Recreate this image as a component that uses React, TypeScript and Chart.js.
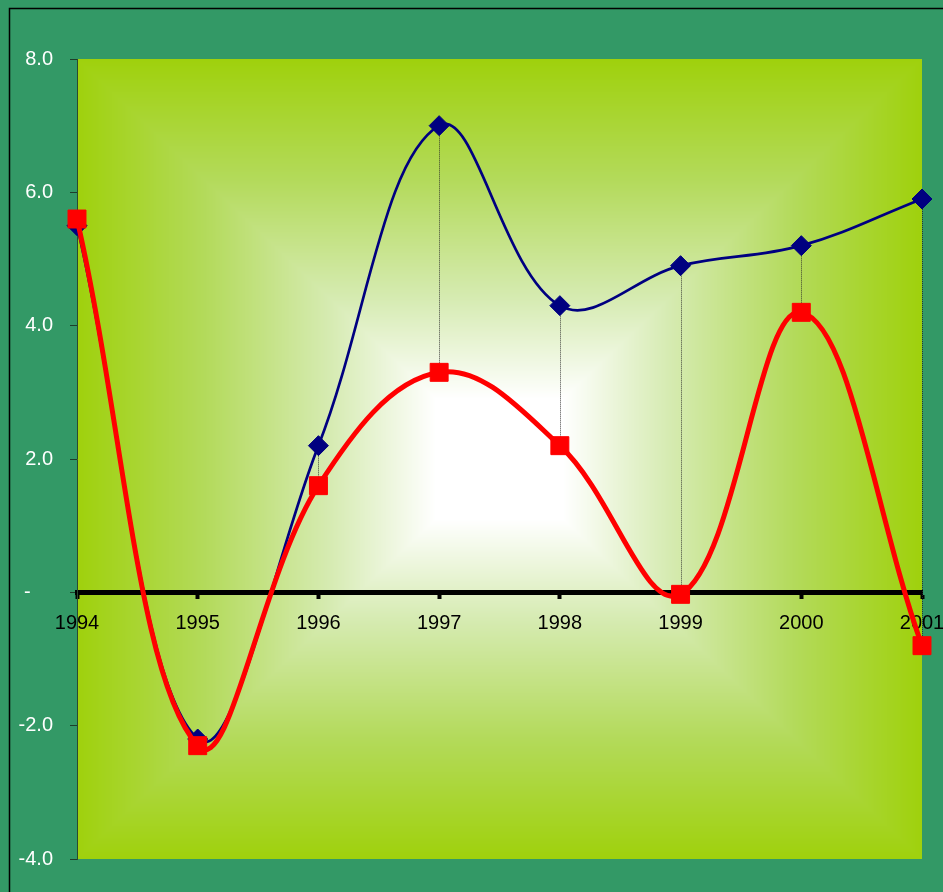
import React, { useEffect, useRef } from "react";
import { Chart, registerables } from "chart.js";

Chart.register(...registerables);

const years = ["1994", "1995", "1996", "1997", "1998", "1999", "2000", "2001"];
const blueSeries = [5.5, -2.2, 2.2, 7.0, 4.3, 4.9, 5.2, 5.9];
const redSeries = [5.6, -2.3, 1.6, 3.3, 2.2, -0.03, 4.2, -0.8];
const yMin = -4;
const yMax = 8;
const yStep = 2;

const FONT = "'Liberation Sans', Arial, sans-serif";

// gradient stops from plot edge (0) to centre (1)
const gradStops: [number, number[]][] = [
  [0, [159, 209, 12]],
  [0.3, [179, 218, 90]],
  [0.6, [214, 235, 178]],
  [0.85, [255, 255, 255]],
  [1, [255, 255, 255]],
];

function colorAt(s: number): number[] {
  for (let i = 1; i < gradStops.length; i++) {
    const [p1, c1] = gradStops[i];
    const [p0, c0] = gradStops[i - 1];
    if (s <= p1) {
      const f = (s - p0) / (p1 - p0 || 1);
      return [c0[0] + (c1[0] - c0[0]) * f, c0[1] + (c1[1] - c0[1]) * f, c0[2] + (c1[2] - c0[2]) * f];
    }
  }
  return gradStops[gradStops.length - 1][1];
}

let cachedGrad: HTMLCanvasElement | null = null;
let cachedKey = "";

function getGradient(w: number, h: number): HTMLCanvasElement {
  const key = w + "x" + h;
  if (cachedGrad && cachedKey === key) return cachedGrad;
  const c = document.createElement("canvas");
  c.width = w;
  c.height = h;
  const g = c.getContext("2d")!;
  const img = g.createImageData(w, h);
  const hw = w / 2;
  const hh = h / 2;
  for (let y = 0; y < h; y++) {
    const dy = Math.abs(y + 0.5 - hh) / hh;
    for (let x = 0; x < w; x++) {
      const dx = Math.abs(x + 0.5 - hw) / hw;
      const t = Math.max(dx, dy);
      const col = colorAt(1 - t);
      const idx = (y * w + x) * 4;
      img.data[idx] = col[0];
      img.data[idx + 1] = col[1];
      img.data[idx + 2] = col[2];
      img.data[idx + 3] = 255;
    }
  }
  g.putImageData(img, 0, 0);
  cachedGrad = c;
  cachedKey = key;
  return c;
}

const backgroundPlugin = {
  id: "bgPlugin",
  beforeDraw(chart: any) {
    const { ctx, chartArea, width, height } = chart;
    ctx.save();
    ctx.fillStyle = "#339966";
    ctx.fillRect(0, 0, width, height);
    ctx.strokeStyle = "#000000";
    ctx.lineWidth = 1.5;
    ctx.strokeRect(9.5, 8.5, width + 50, height + 50);

    const { left, right, top, bottom } = chartArea;
    const w = Math.round(right - left);
    const h = Math.round(bottom - top);
    const grad = getGradient(w, h);
    ctx.drawImage(grad, left, top, right - left, bottom - top);
    ctx.restore();
  },
};

const hiLoPlugin = {
  id: "hiLoPlugin",
  beforeDatasetsDraw(chart: any) {
    const { ctx } = chart;
    const xs = chart.scales.x;
    const ys = chart.scales.y;
    ctx.save();
    ctx.strokeStyle = "rgba(40,40,40,0.85)";
    ctx.lineWidth = 1;
    ctx.setLineDash([1, 1]);
    years.forEach((_, i) => {
      const x = Math.round(xs.getPixelForValue(i)) + 0.5;
      const y1 = ys.getPixelForValue(blueSeries[i]);
      const y2 = ys.getPixelForValue(redSeries[i]);
      ctx.beginPath();
      ctx.moveTo(x, y1);
      ctx.lineTo(x, y2);
      ctx.stroke();
    });
    ctx.restore();
  },
};

export default function App() {
  const ref = useRef<HTMLCanvasElement | null>(null);

  useEffect(() => {
    if (!ref.current) return;
    const chart = new Chart(ref.current, {
      type: "line",
      data: {
        labels: years,
        datasets: [
          {
            label: "Series 2",
            data: redSeries,
            borderColor: "#ff0000",
            backgroundColor: "#ff0000",
            borderWidth: 5,
            pointStyle: "rect",
            pointRadius: 12.7,
            pointBorderWidth: 1,
            pointBorderColor: "#ff0000",
            pointBackgroundColor: "#ff0000",
            tension: 0.38,
            fill: false,
            order: 0,
          },
          {
            label: "Series 1",
            data: blueSeries,
            borderColor: "#000080",
            backgroundColor: "#000080",
            borderWidth: 2.7,
            pointStyle: "rectRot",
            pointRadius: 10,
            pointBorderWidth: 1,
            pointBorderColor: "#000080",
            pointBackgroundColor: "#000080",
            tension: 0.38,
            fill: false,
            order: 1,
          },
        ],
      },
      options: {
        animation: false,
        responsive: false,
        maintainAspectRatio: false,
        layout: { padding: { left: 0, top: 59, right: 21, bottom: 33 } },
        plugins: {
          legend: { display: false },
          title: { display: false },
          tooltip: { enabled: false },
        },
        scales: {
          x: {
            type: "category",
            offset: false,
            position: { y: 0 } as any,
            grid: {
              display: true,
              drawOnChartArea: false,
              drawTicks: true,
              tickLength: 4,
              tickWidth: 4,
              tickColor: "#000000",
            },
            border: { display: true, color: "#000000", width: 5 },
            ticks: {
              color: "#000000",
              font: { family: FONT, size: 20 },
              padding: 15,
              maxRotation: 0,
              autoSkip: false,
            },
            afterFit(scale: any) {
              scale.paddingLeft = 0;
              scale.paddingRight = 0;
            },
          },
          y: {
            type: "linear",
            min: yMin,
            max: yMax,
            grid: {
              display: true,
              drawOnChartArea: false,
              drawTicks: true,
              tickLength: 7,
              tickColor: "#1e3d2a",
              lineWidth: 1,
            },
            border: { display: true, color: "#2a4a30", width: 1, dash: [1, 1] },
            ticks: {
              stepSize: yStep,
              color: "#ffffff",
              font: { family: FONT, size: 20 },
              padding: 17,
              callback: (v: any) => (Number(v) === 0 ? "-    " : Number(v).toFixed(1)),
            },
            afterFit(scale: any) {
              scale.width = 77;
            },
          },
        },
      },
      plugins: [backgroundPlugin, hiLoPlugin],
    });
    return () => chart.destroy();
  }, []);

  return (
    <div
      style={{
        position: "absolute",
        left: 0,
        top: 0,
        width: 943,
        height: 892,
        background: "#339966",
        overflow: "hidden",
      }}
    >
      <canvas ref={ref} width={943} height={892} style={{ display: "block", width: 943, height: 892 }} />
    </div>
  );
}
